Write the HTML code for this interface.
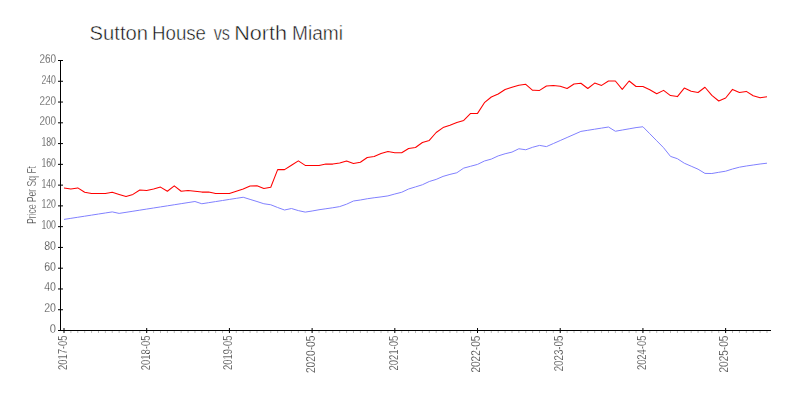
<!DOCTYPE html>
<html><head><meta charset="utf-8"><style>
html,body{margin:0;padding:0;background:#fff;width:800px;height:400px;overflow:hidden}
svg{display:block}
text{font-family:"Liberation Sans",sans-serif}
</style></head><body>
<svg width="800" height="400" viewBox="0 0 800 400">
<rect width="800" height="400" fill="#fff"/>
<g opacity="0.999" font-size="20.5" fill="#111" stroke="#fff" stroke-width="0.45"><text x="89.60" y="39.8" textLength="58.40" lengthAdjust="spacingAndGlyphs">Sutton</text><text x="152.00" y="39.8" textLength="54.00" lengthAdjust="spacingAndGlyphs">House</text><text x="213.70" y="39.8" textLength="16.20" lengthAdjust="spacingAndGlyphs">vs</text><text x="234.20" y="39.8" textLength="52.80" lengthAdjust="spacingAndGlyphs">North</text><text x="292.00" y="39.8" textLength="51.00" lengthAdjust="spacingAndGlyphs">Miami</text></g>
<g shape-rendering="crispEdges">
<rect x="60" y="60" width="1" height="271" fill="#000"/><rect x="58" y="330" width="713" height="1" fill="#000"/>
</g>
<g><rect x="58" y="330.00" width="5" height="1" fill="#000"/><rect x="58" y="309.23" width="5" height="1" fill="#000"/><rect x="58" y="288.46" width="5" height="1" fill="#000"/><rect x="58" y="267.69" width="5" height="1" fill="#000"/><rect x="58" y="246.92" width="5" height="1" fill="#000"/><rect x="58" y="226.15" width="5" height="1" fill="#000"/><rect x="58" y="205.38" width="5" height="1" fill="#000"/><rect x="58" y="184.62" width="5" height="1" fill="#000"/><rect x="58" y="163.85" width="5" height="1" fill="#000"/><rect x="58" y="143.08" width="5" height="1" fill="#000"/><rect x="58" y="122.31" width="5" height="1" fill="#000"/><rect x="58" y="101.54" width="5" height="1" fill="#000"/><rect x="58" y="80.77" width="5" height="1" fill="#000"/><rect x="58" y="60.00" width="5" height="1" fill="#000"/><rect x="63.50" y="328" width="1" height="5" fill="#000"/><rect x="70.39" y="331" width="1" height="2" fill="#bbb"/><rect x="77.28" y="331" width="1" height="2" fill="#bbb"/><rect x="84.18" y="331" width="1" height="2" fill="#bbb"/><rect x="91.07" y="331" width="1" height="2" fill="#bbb"/><rect x="97.96" y="331" width="1" height="2" fill="#bbb"/><rect x="104.85" y="331" width="1" height="2" fill="#bbb"/><rect x="111.74" y="331" width="1" height="2" fill="#bbb"/><rect x="118.64" y="331" width="1" height="2" fill="#bbb"/><rect x="125.53" y="331" width="1" height="2" fill="#bbb"/><rect x="132.42" y="331" width="1" height="2" fill="#bbb"/><rect x="139.31" y="331" width="1" height="2" fill="#bbb"/><rect x="146.20" y="328" width="1" height="5" fill="#000"/><rect x="153.10" y="331" width="1" height="2" fill="#bbb"/><rect x="159.99" y="331" width="1" height="2" fill="#bbb"/><rect x="166.88" y="331" width="1" height="2" fill="#bbb"/><rect x="173.77" y="331" width="1" height="2" fill="#bbb"/><rect x="180.66" y="331" width="1" height="2" fill="#bbb"/><rect x="187.56" y="331" width="1" height="2" fill="#bbb"/><rect x="194.45" y="331" width="1" height="2" fill="#bbb"/><rect x="201.34" y="331" width="1" height="2" fill="#bbb"/><rect x="208.23" y="331" width="1" height="2" fill="#bbb"/><rect x="215.12" y="331" width="1" height="2" fill="#bbb"/><rect x="222.02" y="331" width="1" height="2" fill="#bbb"/><rect x="228.91" y="328" width="1" height="5" fill="#000"/><rect x="235.80" y="331" width="1" height="2" fill="#bbb"/><rect x="242.69" y="331" width="1" height="2" fill="#bbb"/><rect x="249.58" y="331" width="1" height="2" fill="#bbb"/><rect x="256.48" y="331" width="1" height="2" fill="#bbb"/><rect x="263.37" y="331" width="1" height="2" fill="#bbb"/><rect x="270.26" y="331" width="1" height="2" fill="#bbb"/><rect x="277.15" y="331" width="1" height="2" fill="#bbb"/><rect x="284.04" y="331" width="1" height="2" fill="#bbb"/><rect x="290.94" y="331" width="1" height="2" fill="#bbb"/><rect x="297.83" y="331" width="1" height="2" fill="#bbb"/><rect x="304.72" y="331" width="1" height="2" fill="#bbb"/><rect x="311.61" y="328" width="1" height="5" fill="#000"/><rect x="318.50" y="331" width="1" height="2" fill="#bbb"/><rect x="325.40" y="331" width="1" height="2" fill="#bbb"/><rect x="332.29" y="331" width="1" height="2" fill="#bbb"/><rect x="339.18" y="331" width="1" height="2" fill="#bbb"/><rect x="346.07" y="331" width="1" height="2" fill="#bbb"/><rect x="352.96" y="331" width="1" height="2" fill="#bbb"/><rect x="359.86" y="331" width="1" height="2" fill="#bbb"/><rect x="366.75" y="331" width="1" height="2" fill="#bbb"/><rect x="373.64" y="331" width="1" height="2" fill="#bbb"/><rect x="380.53" y="331" width="1" height="2" fill="#bbb"/><rect x="387.42" y="331" width="1" height="2" fill="#bbb"/><rect x="394.32" y="328" width="1" height="5" fill="#000"/><rect x="401.21" y="331" width="1" height="2" fill="#bbb"/><rect x="408.10" y="331" width="1" height="2" fill="#bbb"/><rect x="414.99" y="331" width="1" height="2" fill="#bbb"/><rect x="421.88" y="331" width="1" height="2" fill="#bbb"/><rect x="428.78" y="331" width="1" height="2" fill="#bbb"/><rect x="435.67" y="331" width="1" height="2" fill="#bbb"/><rect x="442.56" y="331" width="1" height="2" fill="#bbb"/><rect x="449.45" y="331" width="1" height="2" fill="#bbb"/><rect x="456.34" y="331" width="1" height="2" fill="#bbb"/><rect x="463.24" y="331" width="1" height="2" fill="#bbb"/><rect x="470.13" y="331" width="1" height="2" fill="#bbb"/><rect x="477.02" y="328" width="1" height="5" fill="#000"/><rect x="483.91" y="331" width="1" height="2" fill="#bbb"/><rect x="490.80" y="331" width="1" height="2" fill="#bbb"/><rect x="497.70" y="331" width="1" height="2" fill="#bbb"/><rect x="504.59" y="331" width="1" height="2" fill="#bbb"/><rect x="511.48" y="331" width="1" height="2" fill="#bbb"/><rect x="518.37" y="331" width="1" height="2" fill="#bbb"/><rect x="525.26" y="331" width="1" height="2" fill="#bbb"/><rect x="532.16" y="331" width="1" height="2" fill="#bbb"/><rect x="539.05" y="331" width="1" height="2" fill="#bbb"/><rect x="545.94" y="331" width="1" height="2" fill="#bbb"/><rect x="552.83" y="331" width="1" height="2" fill="#bbb"/><rect x="559.72" y="328" width="1" height="5" fill="#000"/><rect x="566.62" y="331" width="1" height="2" fill="#bbb"/><rect x="573.51" y="331" width="1" height="2" fill="#bbb"/><rect x="580.40" y="331" width="1" height="2" fill="#bbb"/><rect x="587.29" y="331" width="1" height="2" fill="#bbb"/><rect x="594.18" y="331" width="1" height="2" fill="#bbb"/><rect x="601.08" y="331" width="1" height="2" fill="#bbb"/><rect x="607.97" y="331" width="1" height="2" fill="#bbb"/><rect x="614.86" y="331" width="1" height="2" fill="#bbb"/><rect x="621.75" y="331" width="1" height="2" fill="#bbb"/><rect x="628.64" y="331" width="1" height="2" fill="#bbb"/><rect x="635.54" y="331" width="1" height="2" fill="#bbb"/><rect x="642.43" y="328" width="1" height="5" fill="#000"/><rect x="649.32" y="331" width="1" height="2" fill="#bbb"/><rect x="656.21" y="331" width="1" height="2" fill="#bbb"/><rect x="663.10" y="331" width="1" height="2" fill="#bbb"/><rect x="670.00" y="331" width="1" height="2" fill="#bbb"/><rect x="676.89" y="331" width="1" height="2" fill="#bbb"/><rect x="683.78" y="331" width="1" height="2" fill="#bbb"/><rect x="690.67" y="331" width="1" height="2" fill="#bbb"/><rect x="697.56" y="331" width="1" height="2" fill="#bbb"/><rect x="704.46" y="331" width="1" height="2" fill="#bbb"/><rect x="711.35" y="331" width="1" height="2" fill="#bbb"/><rect x="718.24" y="331" width="1" height="2" fill="#bbb"/><rect x="725.13" y="328" width="1" height="5" fill="#000"/><rect x="732.02" y="331" width="1" height="2" fill="#bbb"/><rect x="738.92" y="331" width="1" height="2" fill="#bbb"/><rect x="745.81" y="331" width="1" height="2" fill="#bbb"/><rect x="752.70" y="331" width="1" height="2" fill="#bbb"/><rect x="759.59" y="331" width="1" height="2" fill="#bbb"/><rect x="766.48" y="331" width="1" height="2" fill="#bbb"/></g>
<g opacity="0.999" font-size="12" fill="#222" stroke="#fff" stroke-width="0.3">
<text x="56" y="332.8" text-anchor="end" textLength="6.2" lengthAdjust="spacingAndGlyphs">0</text><text x="56" y="311.8" text-anchor="end" textLength="11.8" lengthAdjust="spacingAndGlyphs">20</text><text x="56" y="290.8" text-anchor="end" textLength="11.8" lengthAdjust="spacingAndGlyphs">40</text><text x="56" y="270.8" text-anchor="end" textLength="11.8" lengthAdjust="spacingAndGlyphs">60</text><text x="56" y="249.8" text-anchor="end" textLength="11.8" lengthAdjust="spacingAndGlyphs">80</text><text x="56" y="228.8" text-anchor="end" textLength="14.6" lengthAdjust="spacingAndGlyphs">100</text><text x="56" y="207.8" text-anchor="end" textLength="14.6" lengthAdjust="spacingAndGlyphs">120</text><text x="56" y="187.8" text-anchor="end" textLength="14.6" lengthAdjust="spacingAndGlyphs">140</text><text x="56" y="166.8" text-anchor="end" textLength="14.6" lengthAdjust="spacingAndGlyphs">160</text><text x="56" y="145.8" text-anchor="end" textLength="14.6" lengthAdjust="spacingAndGlyphs">180</text><text x="56" y="124.8" text-anchor="end" textLength="16.6" lengthAdjust="spacingAndGlyphs">200</text><text x="56" y="104.8" text-anchor="end" textLength="16.6" lengthAdjust="spacingAndGlyphs">220</text><text x="56" y="83.8" text-anchor="end" textLength="14.6" lengthAdjust="spacingAndGlyphs">240</text><text x="56" y="62.8" text-anchor="end" textLength="16.6" lengthAdjust="spacingAndGlyphs">260</text>
<text transform="translate(66.80,335.6) rotate(-90)" text-anchor="end" font-size="13.5" textLength="34.4" lengthAdjust="spacingAndGlyphs">2017-05</text><text transform="translate(149.50,335.6) rotate(-90)" text-anchor="end" font-size="13.5" textLength="34.65" lengthAdjust="spacingAndGlyphs">2018-05</text><text transform="translate(232.21,335.6) rotate(-90)" text-anchor="end" font-size="13.5" textLength="34.4" lengthAdjust="spacingAndGlyphs">2019-05</text><text transform="translate(314.91,335.6) rotate(-90)" text-anchor="end" font-size="13.5" textLength="37.5" lengthAdjust="spacingAndGlyphs">2020-05</text><text transform="translate(397.62,335.6) rotate(-90)" text-anchor="end" font-size="13.5" textLength="35" lengthAdjust="spacingAndGlyphs">2021-05</text><text transform="translate(480.32,335.6) rotate(-90)" text-anchor="end" font-size="13.5" textLength="37" lengthAdjust="spacingAndGlyphs">2022-05</text><text transform="translate(563.02,335.6) rotate(-90)" text-anchor="end" font-size="13.5" textLength="35.75" lengthAdjust="spacingAndGlyphs">2023-05</text><text transform="translate(645.73,335.6) rotate(-90)" text-anchor="end" font-size="13.5" textLength="34.5" lengthAdjust="spacingAndGlyphs">2024-05</text><text transform="translate(728.43,335.6) rotate(-90)" text-anchor="end" font-size="13.5" textLength="36.9" lengthAdjust="spacingAndGlyphs">2025-05</text>
</g>
<text transform="translate(36,224) rotate(-90)" font-size="12" fill="#222" stroke="#fff" stroke-width="0.3" textLength="58" lengthAdjust="spacingAndGlyphs">Price Per Sq Ft</text>
<path d="M64.00,219.40L70.89,218.33L77.78,217.26L84.68,216.19L91.57,215.11L98.46,214.04L105.35,212.97L112.24,211.90L119.14,213.40L126.03,212.32L132.92,211.24L139.81,210.15L146.70,209.07L153.60,207.99L160.49,206.91L167.38,205.83L174.27,204.75L181.16,203.66L188.06,202.58L194.95,201.50L201.84,203.75L208.73,202.67L215.62,201.58L222.52,200.50L229.41,199.42L236.30,198.33L243.19,197.25L250.08,199.40L256.98,201.50L263.87,203.75L270.76,204.75L277.65,207.50L284.54,210.00L291.44,208.50L298.33,210.60L305.22,212.10L312.11,211.00L319.00,209.75L325.90,208.75L332.79,207.75L339.68,206.60L346.57,204.20L353.46,201.00L360.36,200.00L367.25,198.75L374.14,197.75L381.03,196.90L387.92,195.90L394.82,194.00L401.71,192.25L408.60,189.00L415.49,186.90L422.38,184.75L429.28,181.50L436.17,179.40L443.06,176.40L449.95,174.40L456.84,172.75L463.74,168.10L470.63,166.25L477.52,164.40L484.41,161.00L491.30,159.10L498.20,155.90L505.09,153.75L511.98,152.10L518.87,148.75L525.76,149.75L532.66,147.25L539.55,145.40L546.44,146.60L553.33,143.56L560.22,140.52L567.12,137.48L574.01,134.44L580.90,131.40L587.79,130.30L594.68,129.20L601.58,128.10L608.47,127.00L615.36,131.25L622.25,130.03L629.14,128.82L636.04,127.60L642.93,126.75L649.82,133.75L656.71,140.75L663.60,147.75L670.50,156.40L677.39,158.70L684.28,163.20L691.17,166.20L698.06,169.20L704.96,173.40L711.85,173.50L718.74,172.30L725.63,171.20L732.52,169.00L739.42,167.20L746.31,166.00L753.20,165.00L760.09,164.00L766.98,163.20" fill="none" stroke="#8080ff" stroke-width="1" stroke-linejoin="round"/>
<path d="M64.00,187.90L70.89,189.10L77.78,187.90L84.68,192.25L91.57,193.50L98.46,193.50L105.35,193.50L112.24,192.25L119.14,194.40L126.03,196.50L132.92,194.40L139.81,190.00L146.70,190.40L153.60,189.00L160.49,187.10L167.38,191.25L174.27,185.90L181.16,191.25L188.06,190.40L194.95,191.25L201.84,192.10L208.73,192.10L215.62,193.40L222.52,193.40L229.41,193.40L236.30,191.25L243.19,189.00L250.08,186.00L256.98,185.80L263.87,188.40L270.76,187.25L277.65,169.60L284.54,169.60L291.44,165.25L298.33,160.90L305.22,165.40L312.11,165.40L319.00,165.40L325.90,164.10L332.79,164.10L339.68,163.10L346.57,161.00L353.46,163.40L360.36,162.25L367.25,157.50L374.14,156.50L381.03,153.50L387.92,151.60L394.82,152.75L401.71,152.75L408.60,148.50L415.49,147.50L422.38,142.50L429.28,140.40L436.17,132.50L443.06,127.60L449.95,125.20L456.84,122.50L463.74,120.40L470.63,113.40L477.52,113.40L484.41,102.70L491.30,97.00L498.20,94.00L505.09,89.50L511.98,87.30L518.87,85.20L525.76,84.30L532.66,90.30L539.55,90.40L546.44,86.00L553.33,85.40L560.22,86.25L567.12,88.50L574.01,84.00L580.90,83.25L587.79,88.50L594.68,83.10L601.58,85.40L608.47,81.00L615.36,81.00L622.25,89.40L629.14,81.00L636.04,86.50L642.93,86.50L649.82,89.75L656.71,93.75L663.60,90.40L670.50,95.60L677.39,96.60L684.28,88.10L691.17,91.25L698.06,92.50L704.96,87.25L711.85,95.40L718.74,101.00L725.63,98.00L732.52,89.40L739.42,92.50L746.31,91.40L753.20,95.75L760.09,97.85L766.98,96.65" fill="none" stroke="#ff0000" stroke-width="1.05" stroke-linejoin="round"/>
</svg>
</body></html>
